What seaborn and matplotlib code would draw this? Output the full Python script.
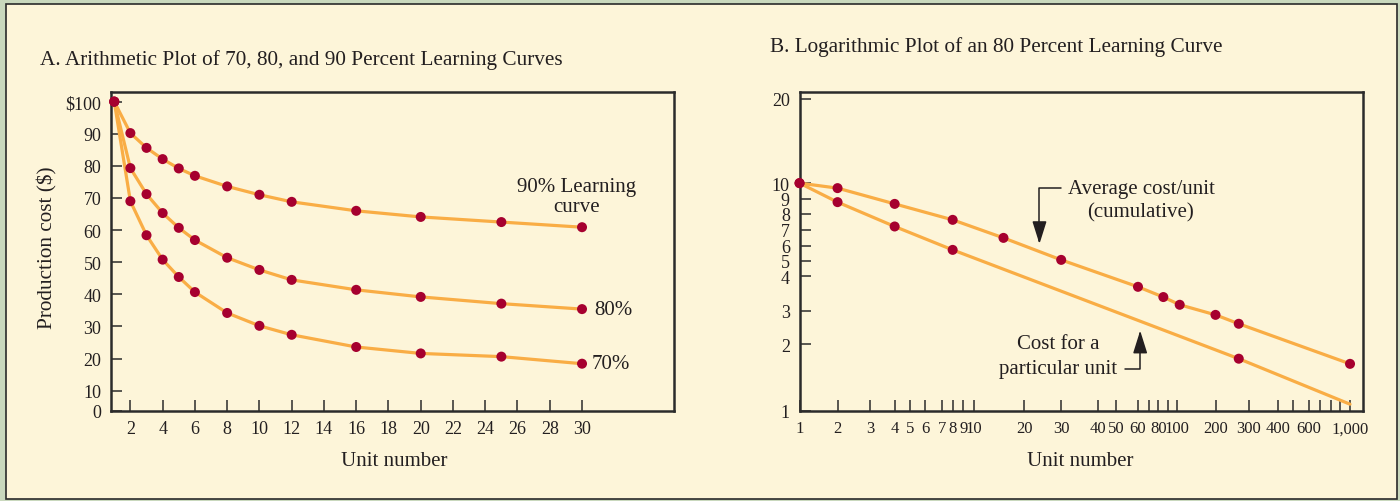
import numpy as np
import matplotlib
matplotlib.use("Agg")
import matplotlib.pyplot as plt
from matplotlib.patches import Rectangle
import seaborn as sns

# ---------------- data ----------------
units_a = [1, 2, 3, 4, 5, 6, 8, 10, 12, 16, 20, 25, 30]
cost_90 = [100, 90.2, 85.6, 82.1, 79.2, 76.9, 73.6, 71.0, 68.8, 66.0, 64.1, 62.5, 60.9]
cost_80 = [100, 79.3, 71.2, 65.3, 60.7, 56.9, 51.4, 47.6, 44.5, 41.4, 39.2, 37.1, 35.4]
cost_70 = [100, 69.0, 58.4, 50.8, 45.4, 40.7, 34.2, 30.2, 27.4, 23.6, 21.6, 20.6, 18.4]

units_avg = [1, 2, 4, 8, 15, 30, 60, 85, 105, 200, 265, 1000]
avg_cost = [10, 9.67, 8.65, 7.61, 6.47, 5.06, 3.66, 3.36, 3.15, 2.85, 2.56, 1.63]
units_unit = [1, 2, 4, 8, 265, 1000]
unit_cost = [10, 8.77, 7.2, 5.7, 1.72, 1.07]

a_xticks = list(range(2, 31, 2))
a_yticks = list(range(0, 101, 10))
a_ylabels = [str(v) for v in a_yticks[:-1]] + ["$100"]

b_xticks = [1, 2, 3, 4, 5, 6, 7, 8, 9, 10, 20, 30, 40, 50, 60, 70, 80, 90, 100,
            200, 300, 400, 500, 600, 700, 800, 900, 1000]
b_xlabels = ["1", "2", "3", "4", "5", "6", "7", "8", "9", "10", "20", "30", "40",
             "50", "60", "", "80", "", "100", "200", "300", "400", "", "600",
             "", "", "", "1,000"]
b_yticks = [1, 2, 3, 4, 5, 6, 7, 8, 9, 10, 20]

# the printed log axes are not evenly spaced: spacing of each tick (px)
b_xgrid = b_xticks + [2000]
b_xspace = [0, 38, 70.6, 95.1, 110.6, 125.7, 142.4, 153.1, 163.7, 174.3, 224.9,
            261.6, 298.4, 316.4, 338.4, 349, 358.8, 368.4, 377.4, 415.9, 449.4,
            478.4, 493.4, 509.4, 520.4, 531, 540.8, 550.4, 602.5]
b_ygrid = b_yticks + [40]
b_yspace = [0, 66.4, 100, 134.4, 149.7, 165, 180.7, 196.7, 211.7, 227.4, 311.7, 396]

CREAM = "#fdf5d9"
ORANGE = "#f9ad45"
DOT = "#a6002f"
INK = "#231f20"


def knot_scale(vals, space):
    lv = np.log10(vals)

    def fwd(v):
        return np.interp(np.log10(np.clip(v, 1e-6, None)), lv, space)

    def inv(p):
        return 10 ** np.interp(p, space, lv)
    return fwd, inv


def broken_zero(v):
    return np.interp(v, [0, 10, 200], [0, 20, 20 + 190 * 3.21])


def broken_zero_inv(p):
    return np.interp(p, [0, 20, 20 + 190 * 3.21], [0, 10, 200])


sns.set_theme(style="ticks")
plt.rcParams["font.family"] = ["Liberation Serif", "DejaVu Serif"]
plt.rcParams["text.color"] = INK

fig = plt.figure(figsize=(14, 5.02), dpi=100, facecolor="#c9d8bd")
fig.add_artist(Rectangle((0.0046, 0.004), 0.9936, 0.986, transform=fig.transFigure,
                         facecolor=CREAM, edgecolor="#2a2a2a", lw=1.2, zorder=0))

ax1 = fig.add_axes([0.0793, 0.1799, 0.4021, 0.6355])
ax2 = fig.add_axes([0.5711, 0.1799, 0.4025, 0.6355])

# ---------------- panel A ----------------
for vals in (cost_90, cost_80, cost_70):
    sns.lineplot(x=units_a, y=vals, color=ORANGE, linewidth=2.3, ax=ax1, zorder=2)
    sns.scatterplot(x=units_a, y=vals, color=DOT, s=52, edgecolor="none", ax=ax1,
                    zorder=3, clip_on=False)

ax1.set_yscale("function", functions=(broken_zero, broken_zero_inv))
ax1.set_xlim(0.8, 35.7)
ax1.set_ylim(0, 103.1)
ax1.set_xticks(a_xticks)
ax1.set_yticks(a_yticks, labels=a_ylabels)

ax1.annotate("90% Learning\ncurve", xy=(units_a[-1], cost_90[-1]), xytext=(-4, 22),
             textcoords="offset points", ha="center", va="center", fontsize=15,
             linespacing=1.1)
ax1.annotate("80%", xy=(units_a[-1], cost_80[-1]), xytext=(8.5, 0),
             textcoords="offset points", ha="left", va="center", fontsize=15)
ax1.annotate("70%", xy=(units_a[-1], cost_70[-1]), xytext=(7, 0),
             textcoords="offset points", ha="left", va="center", fontsize=15)

ax1.set_xlabel("Unit number", fontsize=15, color=INK)
ax1.xaxis.set_label_coords(0.504, -0.125)
ax1.set_ylabel("Production cost ($)", fontsize=15.3, color=INK)
ax1.yaxis.set_label_coords(-0.095, 0.515)

# ---------------- panel B ----------------
sns.lineplot(x=units_avg, y=avg_cost, color=ORANGE, linewidth=2.3, ax=ax2, zorder=2)
sns.lineplot(x=units_unit, y=unit_cost, color=ORANGE, linewidth=2.3, ax=ax2, zorder=2)
sns.scatterplot(x=units_avg, y=avg_cost, color=DOT, s=52, edgecolor="none", ax=ax2,
                zorder=3, clip_on=False)
sns.scatterplot(x=units_unit[:-1], y=unit_cost[:-1], color=DOT, s=52, edgecolor="none",
                ax=ax2, zorder=3, clip_on=False)

ax2.set_xscale("function", functions=knot_scale(b_xgrid, b_xspace))
ax2.set_yscale("function", functions=knot_scale(b_ygrid, b_yspace))
ax2.set_xlim(1, 1189)
ax2.set_ylim(1, 21.2)
ax2.set_xticks(b_xticks, labels=b_xlabels)
ax2.set_yticks(b_yticks, labels=[str(v) for v in b_yticks])
ax2.minorticks_off()

arrow = dict(arrowstyle="-|>,head_length=0.7,head_width=0.22", color=INK, lw=1.1,
             mutation_scale=20, shrinkA=3, shrinkB=0)
ax2.annotate("Average cost/unit", xy=(0.4258, 0.5226), xycoords="axes fraction",
             xytext=(0.4764, 0.698), textcoords="axes fraction", ha="left",
             va="center", fontsize=15,
             arrowprops=dict(arrow, relpos=(0, 0.5),
                             connectionstyle="angle,angleA=0,angleB=90,rad=0"))
ax2.text(0.6044, 0.623, "(cumulative)", transform=ax2.transAxes, ha="center",
         va="center", fontsize=15)
ax2.text(0.4586, 0.2091, "Cost for a", transform=ax2.transAxes, ha="center",
         va="center", fontsize=15)
ax2.annotate("particular unit", xy=(0.6045, 0.2508), xycoords="axes fraction",
             xytext=(0.4594, 0.1307), textcoords="axes fraction", ha="center",
             va="center", fontsize=15,
             arrowprops=dict(arrow, relpos=(1, 0.5),
                             connectionstyle="angle,angleA=0,angleB=90,rad=0"))

ax2.set_xlabel("Unit number", fontsize=15, color=INK)
ax2.xaxis.set_label_coords(0.498, -0.125)
ax2.set_ylabel("")

# ---------------- shared styling ----------------
for ax in (ax1, ax2):
    ax.set_facecolor(CREAM)
    for sp in ax.spines.values():
        sp.set_color("#2b2b2b")
        sp.set_linewidth(1.8)
    ax.tick_params(direction="in", length=8, width=1.1, labelsize=13,
                   color="#2b2b2b", labelcolor=INK, pad=7)
    ax.grid(False)
ax2.tick_params(axis="x", labelsize=12)

fig.text(40 / 1400, 1 - 60 / 502, "A. Arithmetic Plot of 70, 80, and 90 Percent Learning Curves",
         fontsize=15.3, va="center", ha="left")
fig.text(770 / 1400, 1 - 47 / 502, "B. Logarithmic Plot of an 80 Percent Learning Curve",
         fontsize=15.3, va="center", ha="left")

fig.savefig("out.png", dpi=100, facecolor=fig.get_facecolor())
